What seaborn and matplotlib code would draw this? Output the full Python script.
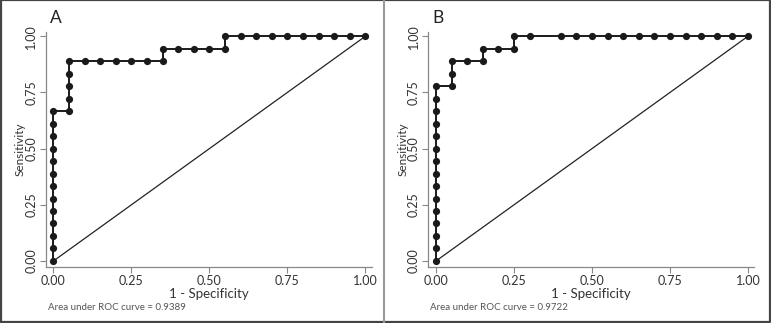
import matplotlib
matplotlib.use("Agg")
import matplotlib.pyplot as plt
from matplotlib.lines import Line2D
import seaborn as sns
import pandas as pd

# ROC points (1 - specificity, sensitivity), 18 positives / 20 negatives
fpr_a = [0.00] * 13 + [0.05] * 5 + [0.10, 0.15, 0.20, 0.25, 0.30, 0.35,
         0.35, 0.40, 0.45, 0.50, 0.55, 0.55, 0.60, 0.65, 0.70, 0.75,
         0.80, 0.85, 0.90, 0.95, 1.00]
tpr_a = [i / 18 for i in range(13)] + [12/18, 13/18, 14/18, 15/18, 16/18] + \
        [16/18] * 6 + [17/18] * 5 + [1.0] * 10

fpr_b = [0.00] * 15 + [0.05, 0.05, 0.05, 0.10, 0.15, 0.15, 0.20, 0.25,
         0.25, 0.30, 0.40, 0.45, 0.50, 0.55, 0.60, 0.65, 0.70, 0.75,
         0.80, 0.85, 0.90, 0.95, 1.00]
tpr_b = [i / 18 for i in range(15)] + [14/18, 15/18, 16/18, 16/18, 16/18,
         17/18, 17/18, 17/18] + [1.0] * 15

panels = [("A", fpr_a, tpr_a, "Area under ROC curve = 0.9389"),
          ("B", fpr_b, tpr_b, "Area under ROC curve = 0.9722")]
ticks = [0.0, 0.25, 0.5, 0.75, 1.0]
tick_labels = ["0.00", "0.25", "0.50", "0.75", "1.00"]

sns.set_style("white")
plt.rcParams["font.family"] = ["Lato", "DejaVu Sans"]

fig = plt.figure(figsize=(7.71, 3.23), dpi=100)
axes_pos = [[45.7, 31.7], [428.3, 31.7]]

for (name, fpr, tpr, auc_txt), (lx, ty) in zip(panels, axes_pos):
    w, h = 326, 235.3
    ax = fig.add_axes([lx / 771, (323 - ty - h) / 323, w / 771, h / 323])
    df = pd.DataFrame({"fpr": fpr, "tpr": tpr})
    ax.plot([0, 1], [0, 1], color="#222222", lw=0.9)
    sns.lineplot(data=df, x="fpr", y="tpr", sort=False, estimator=None,
                 marker="o", markersize=5.2, color="#1a1a1a", lw=1.4,
                 markeredgewidth=0, ax=ax)
    ax.set_xlim(-0.025, 1.02)
    ax.set_ylim(-0.027, 1.02)
    ax.set_xticks(ticks, tick_labels)
    ax.set_yticks(ticks, tick_labels)
    for s in ["top", "right"]:
        ax.spines[s].set_visible(False)
    for s in ["left", "bottom"]:
        ax.spines[s].set_color("#888888")
        ax.spines[s].set_linewidth(0.9)
    ax.tick_params(axis="both", direction="out", length=4, width=0.8,
                   color="#888888", labelsize=9, labelcolor="#333333",
                   left=True, bottom=True)
    ax.tick_params(axis="x", pad=2)
    ax.tick_params(axis="y", pad=2)
    plt.setp(ax.get_yticklabels(), rotation=90, va="center")
    ax.set_xlabel("1 - Specificity", fontsize=9.5, color="#333333")
    ax.set_ylabel("Sensitivity", fontsize=8.5, color="#333333")
    ax.xaxis.set_label_coords(0.5, -(294.5 - 267) / h)
    ax.yaxis.set_label_coords(-25.5 / w, 0.5)
    ax.xaxis.label.set_va("center")
    ax.yaxis.label.set_va("center")
    fig.text((lx + 4) / 771, 1 - 18 / 323, name, fontsize=12.5, color="#222222",
             va="center")
    fig.text((lx + 2) / 771, 1 - 308 / 323, auc_txt, fontsize=7,
             color="#555555", va="center")

# frame and divider
fig.add_artist(Line2D([0.001, 0.999, 0.999, 0.001, 0.001],
                      [0.002, 0.002, 0.999, 0.999, 0.002],
                      transform=fig.transFigure, color="#444444", lw=1.6))
fig.add_artist(Line2D([384 / 771, 384 / 771], [0, 1], transform=fig.transFigure,
                      color="#999999", lw=1.5))

fig.savefig("out.png", dpi=100)
